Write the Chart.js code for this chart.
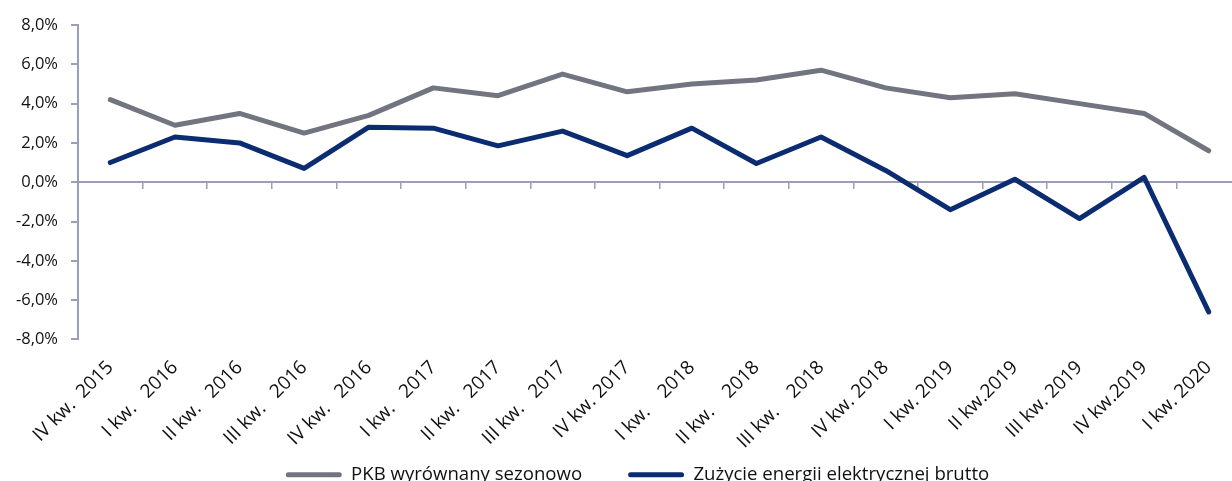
<!DOCTYPE html>
<html lang="pl">
<head>
<meta charset="utf-8">
<title>PKB i zużycie energii elektrycznej</title>
<script src="https://cdn.jsdelivr.net/npm/chart.js@4.4.1/dist/chart.umd.min.js"></script>
<style>
  html, body { margin: 0; padding: 0; background: #ffffff; overflow: hidden; }
  body { width: 1232px; height: 481px; }
  #wrap { position: absolute; left: 0; top: 0; width: 1275px; height: 494px; }
</style>
</head>
<body>
<div id="wrap"><canvas id="chart" width="1275" height="494"></canvas></div>
<script>
// Kwartały (etykiety osi X)
const quarters = [
  'IV kw.  2015', 'I kw.   2016', 'II kw.   2016', 'III kw.   2016', 'IV kw.   2016',
  'I kw.   2017', 'II kw.   2017', 'III kw.   2017', 'IV kw. 2017',
  'I kw.    2018', 'II kw.    2018', 'III kw.    2018', 'IV kw. 2018',
  'I kw. 2019', 'II kw.2019', 'III kw. 2019', 'IV kw.2019', 'I kw. 2020'
];

// Dynamika r/r, w procentach
const pkbSeasonal = [4.2, 2.9, 3.5, 2.5, 3.4, 4.8, 4.4, 5.5, 4.6, 5.0, 5.2, 5.7, 4.8, 4.3, 4.5, 4.0, 3.5, 1.6];
const grossPowerUse = [1.0, 2.3, 2.0, 0.7, 2.8, 2.75, 1.85, 2.6, 1.35, 2.75, 0.95, 2.3, 0.6, -1.4, 0.15, -1.85, 0.25, -6.6];

// Podziałka osi Y
const yMin = -8;
const yMax = 8;
const yStep = 2;

const seriesNames = ['PKB wyrównany sezonowo', 'Zużycie energii elektrycznej brutto'];

const GREY = '#72757f';
const NAVY = '#0b2c70';
const AXIS = '#9c9eb9';
const TEXT = '#111111';
const FONT = '"Open Sans", "Liberation Sans", sans-serif';

const fmtPct = v => v.toFixed(1).replace('.', ',') + '%';

const lineStyle = color => ({
  borderColor: color,
  backgroundColor: color,
  borderWidth: 5,
  pointRadius: 0,
  tension: 0,
  borderJoinStyle: 'round',
  borderCapStyle: 'round'
});

new Chart(document.getElementById('chart'), {
  type: 'line',
  data: {
    labels: quarters,
    datasets: [
      { label: seriesNames[0], data: pkbSeasonal, ...lineStyle(GREY) },
      { label: seriesNames[1], data: grossPowerUse, ...lineStyle(NAVY) }
    ]
  },
  options: {
    responsive: false,
    animation: false,
    events: [],
    layout: { padding: { left: 0, top: 25, right: 0, bottom: 0 } },
    scales: {
      // oś kategorii przecinająca wykres na poziomie 0%
      x: {
        type: 'category',
        position: { y: 0 },
        offset: true,
        border: { display: true, color: AXIS, width: 2 },
        grid: { offset: true, drawOnChartArea: false, drawTicks: true, tickLength: 6, color: AXIS, lineWidth: 1.5 },
        ticks: { display: false }
      },
      // podpisy kwartałów pod wykresem
      x2: {
        type: 'category',
        position: { y: yMin },
        labels: quarters,
        offset: true,
        border: { display: false },
        grid: { display: false, drawTicks: false },
        ticks: {
          autoSkip: false,
          minRotation: 45,
          maxRotation: 45,
          padding: 17,
          color: TEXT,
          font: { family: FONT, size: 19 }
        }
      },
      y: {
        position: 'left',
        min: yMin,
        max: yMax,
        border: { display: true, color: AXIS, width: 2 },
        grid: { drawOnChartArea: false, drawTicks: true, tickLength: 7, color: AXIS, lineWidth: 2 },
        ticks: {
          stepSize: yStep,
          padding: 13,
          color: TEXT,
          font: { family: FONT, size: 16.5 },
          callback: v => fmtPct(v)
        },
        afterFit: s => { s.width = 78; }
      },
      // pusty margines po prawej stronie obszaru wykresu
      yRight: {
        position: 'right',
        display: true,
        border: { display: false },
        grid: { display: false, drawTicks: false },
        ticks: { display: false },
        afterFit: s => { s.width = 34; }
      }
    },
    plugins: {
      tooltip: { enabled: false },
      legend: {
        position: 'bottom',
        // pusty tytuł odsuwa legendę pod podpisy osi X
        title: { display: true, text: '', font: { size: 10, lineHeight: 1 }, padding: { top: 70, bottom: 0 } },
        labels: {
          color: TEXT,
          font: { family: FONT, size: 18.6 },
          boxWidth: 56,
          boxHeight: 5,
          padding: 46,
          generateLabels: chart => Chart.defaults.plugins.legend.labels.generateLabels(chart).map(item => ({
            ...item,
            fillStyle: item.strokeStyle,
            lineWidth: 0,
            borderRadius: 2.5
          }))
        }
      }
    }
  }
});
</script>
</body>
</html>
